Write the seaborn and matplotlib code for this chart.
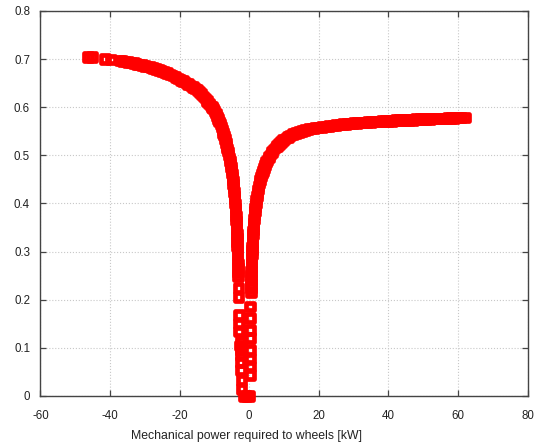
import matplotlib
matplotlib.use("Agg")
import matplotlib.pyplot as plt
import pandas as pd
import seaborn as sns

# ---- data ----
# negative-power branch (regenerative side)
left_x = [-46.4, -45.2, -41.5, -39.7, -37.2,
          -36.4, -35.6, -34.8, -34.0, -33.2, -32.4, -31.6, -30.8, -30.0, -29.2,
          -28.4, -27.6, -26.8, -26.0, -25.2, -24.4, -23.6, -22.8, -22.0, -21.2,
          -20.4, -19.7, -19.0, -18.3, -17.6, -16.9, -16.2, -15.5, -14.9, -14.3,
          -13.7, -13.1, -12.6, -12.1, -11.6, -11.1, -10.7,
          -10.4, -10.0, -9.6, -9.25, -8.9, -8.6, -8.3, -8.0, -7.7, -7.45, -7.2, -6.95,
          -6.7, -6.5, -6.3, -6.1, -5.9, -5.7, -5.55, -5.4, -5.25, -5.1, -4.95, -4.82,
          -4.7, -4.58, -4.47, -4.37, -4.27, -4.18, -4.09, -4.0, -3.92, -3.85, -3.78,
          -3.71, -3.65, -3.59, -3.54, -3.49, -3.44, -3.40, -3.36, -3.32, -3.28, -3.25,
          -3.22, -3.19]
left_y = [0.705, 0.705, 0.700, 0.699, 0.697,
          0.696, 0.695, 0.694, 0.693, 0.692, 0.690, 0.689, 0.688, 0.686, 0.685,
          0.683, 0.681, 0.679, 0.677, 0.675, 0.673, 0.671, 0.668, 0.666, 0.663,
          0.660, 0.657, 0.654, 0.651, 0.648, 0.645, 0.642, 0.639, 0.636, 0.632,
          0.627, 0.622, 0.618, 0.613, 0.608, 0.604, 0.600,
          0.597, 0.592, 0.587, 0.581, 0.575, 0.570, 0.565, 0.559, 0.553, 0.547, 0.541, 0.534,
          0.526, 0.520, 0.514, 0.508, 0.501, 0.494, 0.488, 0.482, 0.476, 0.469, 0.462, 0.455,
          0.448, 0.440, 0.432, 0.424, 0.416, 0.408, 0.400, 0.391, 0.382, 0.374, 0.365,
          0.356, 0.347, 0.338, 0.329, 0.320, 0.311, 0.302, 0.293, 0.284, 0.275, 0.266,
          0.257, 0.248]

# scattered low-power points near zero
low_x = [-3.05, -3.05, -2.9, -2.9, -2.9, -2.3, -2.7, -2.3, -2.3, -2.5, -2.3, -2.2, -2.2,
         -1.6, -0.8, 0.0,
         0.3, 0.3, 0.3, 0.3, 0.3, 0.3, 0.3, 0.3]
low_y = [0.224, 0.206, 0.168, 0.151, 0.134, 0.113, 0.105, 0.096, 0.085, 0.071, 0.054, 0.033, 0.014,
         0.0, 0.0, 0.0,
         0.186, 0.162, 0.137, 0.120, 0.096, 0.078, 0.061, 0.044]

# positive-power branch (traction side)
right_x = [0.45, 0.48, 0.50, 0.53, 0.56, 0.59, 0.62, 0.66, 0.70, 0.74, 0.79, 0.84, 0.90,
           0.96, 1.03, 1.10, 1.18, 1.27, 1.37, 1.48, 1.60, 1.73, 1.87, 2.02, 2.18, 2.35,
           2.53, 2.72, 2.93, 3.15, 3.40, 3.66, 3.94, 4.24, 4.56, 4.90, 5.27, 5.66, 6.08,
           6.53, 7.00, 7.50, 8.02, 8.57, 9.15, 9.76, 10.4, 11.1, 11.8, 12.6, 13.4, 14.3,
           15.2, 16.1, 17.0, 17.9, 18.8, 19.7,
           21, 22, 23, 24, 25, 26, 27, 28, 29, 30, 31, 32, 33, 34, 35, 36, 37, 38, 39, 40,
           41, 42, 43, 44, 45, 46, 47, 48, 49, 50, 51, 52, 53, 54, 55, 56, 57, 58, 59, 60,
           61, 62]
right_y = [0.215, 0.224, 0.233, 0.242, 0.251, 0.260, 0.268, 0.277, 0.286, 0.294, 0.303, 0.311,
           0.320, 0.328, 0.336, 0.344, 0.352, 0.360, 0.368, 0.376, 0.384, 0.392, 0.400, 0.408,
           0.415, 0.422, 0.429, 0.436, 0.443, 0.449, 0.456, 0.462, 0.468, 0.474, 0.480, 0.486,
           0.491, 0.497, 0.502, 0.507, 0.512, 0.516, 0.520, 0.524, 0.528, 0.532, 0.535, 0.538,
           0.541, 0.544, 0.546, 0.549, 0.551, 0.553, 0.555, 0.556, 0.557, 0.558,
           0.559, 0.560, 0.561, 0.562, 0.563, 0.564, 0.565, 0.565, 0.566, 0.567, 0.567, 0.568,
           0.568, 0.569, 0.569, 0.570, 0.570, 0.571, 0.571, 0.572, 0.572, 0.573, 0.573, 0.573,
           0.574, 0.574, 0.574, 0.575, 0.575, 0.576, 0.576, 0.576, 0.577, 0.577, 0.577, 0.577,
           0.578, 0.578, 0.578, 0.579, 0.579, 0.579]

x_ticks = [-60, -40, -20, 0, 20, 40, 60, 80]
x_tick_labels = ["-60", "-40", "-20", "0", "20", "40", "60", "80"]
y_ticks = [0, 0.1, 0.2, 0.3, 0.4, 0.5, 0.6, 0.7, 0.8]
y_tick_labels = ["0", "0.1", "0.2", "0.3", "0.4", "0.5", "0.6", "0.7", "0.8"]
x_label = "Mechanical power required to wheels [kW]"

# ---- plotting ----
sns.set_style("ticks")
plt.rcParams["font.family"] = ["Liberation Sans", "DejaVu Sans"]
plt.rcParams["axes.unicode_minus"] = False

df = pd.DataFrame({
    "power": left_x + low_x + right_x,
    "eff": left_y + low_y + right_y,
})

fig = plt.figure(figsize=(5.35, 4.43), dpi=100)
ax = fig.add_axes([0.0757, 0.1061, 0.9103, 0.8691])

sns.scatterplot(data=df, x="power", y="eff", ax=ax, marker="s", s=30,
                facecolors="none", edgecolor="#ff0000", linewidth=3.4,
                clip_on=False, zorder=3, legend=False)

ax.set_xlim(-60, 80)
ax.set_ylim(0, 0.8)
ax.set_xticks(x_ticks)
ax.set_xticklabels(x_tick_labels)
ax.set_yticks(y_ticks)
ax.set_yticklabels(y_tick_labels)

ax.grid(True, color="#c8c8c8", linewidth=0.8, linestyle=":")
ax.set_axisbelow(True)
ax.tick_params(direction="in", length=4, width=0.9, top=True, right=True,
               labelsize=8.3, labelcolor="#222222", color="#444444")
ax.tick_params(axis="x", pad=10)
ax.tick_params(axis="y", pad=7.5)
ax.set_xlabel(x_label, fontsize=8.8, color="#222222", labelpad=6, x=0.424)
ax.set_ylabel("")
for sp in ax.spines.values():
    sp.set_color("#444444")
    sp.set_linewidth(1.0)

fig.savefig("out.png", dpi=100)
